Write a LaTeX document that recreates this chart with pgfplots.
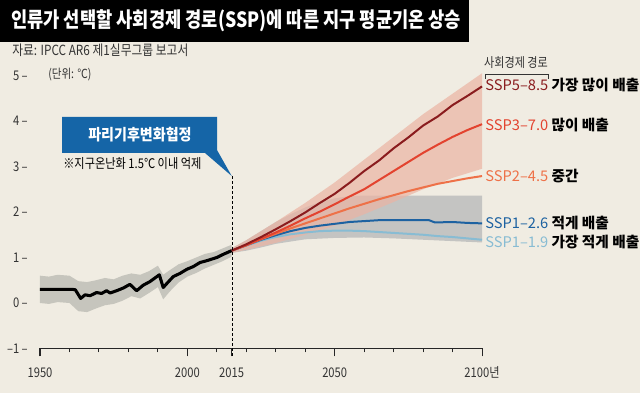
\documentclass[border=0pt]{standalone}
\usepackage{pgfplots}
\pgfplotsset{compat=1.18}
\usepackage{fontspec}
\setmainfont{Noto Sans CJK KR}
\newfontfamily\cond{Noto Sans CJK KR}[FakeStretch=0.84]
\newfontfamily\condb{Noto Sans CJK KR}[FakeStretch=0.9]
\newfontfamily\lab{Noto Sans CJK KR}
\definecolor{bg}{HTML}{F0ECE2}
\definecolor{txt}{HTML}{333333}
\definecolor{ssp585}{HTML}{8A1C1E}
\definecolor{ssp370}{HTML}{E3432F}
\definecolor{ssp245}{HTML}{EE7148}
\definecolor{ssp126}{HTML}{1D62A1}
\definecolor{ssp119}{HTML}{88BCD3}
\definecolor{redband}{HTML}{EBB4A3}
\definecolor{greyband}{HTML}{BDBDBD}
\definecolor{histband}{HTML}{C6C5BD}
\definecolor{callout}{HTML}{1565A7}
\begin{document}
\begin{tikzpicture}[x=0.75pt,y=0.75pt]
\fill[bg] (0,0) rectangle (640,393);
\path[use as bounding box] (0,0) rectangle (640,393);
\fill[black] (0,393) rectangle (469,351);
\node[anchor=west, text=white, inner sep=0pt, font=\cond\bfseries\fontsize{15.75pt}{18pt}\selectfont] at (11,372) {인류가 선택할 사회경제 경로(SSP)에 따른 지구 평균기온 상승};
\node[anchor=west, text=txt, inner sep=0pt, font=\cond\fontsize{10.5pt}{12pt}\selectfont] at (12,343) {자료: IPCC AR6 제1실무그룹 보고서};
\node[anchor=west, text=txt, inner sep=0pt, font=\cond\fontsize{9.4pt}{11pt}\selectfont] at (48,318) {(단위: ℃)};

\begin{axis}[
  at={(30pt,33.375pt)}, anchor=south west,
  x=2.2103pt, y=34.125pt,
  xmin=1950, xmax=2100, ymin=-1, ymax=5.3,
  enlargelimits=false, clip=false,
  axis x line=bottom, axis y line=left,
  axis line style={-},
  x axis line style={draw=black!85, line width=0.8pt},
  y axis line style={draw=none},
  xtick={1950,2000,2015,2050,2100},
  xticklabels={1950,2000,2015,2050,2100년},
  minor xtick={1960,1970,1980,1990,2010,2020,2030,2040,2060,2070,2080,2090},
  tick align=outside,
  major tick length=6pt, minor tick length=3pt,
  xtick style={draw=black!85, line width=0.8pt},
  ytick={-1,0,1,2,3,4,5},
  yticklabels={–1 –,0 –,1 –,2 –,3 –,4 –,5 –},
  ytick style={draw=none},
  every tick label/.append style={font=\cond\fontsize{10pt}{11pt}\selectfont, text=txt},
  yticklabel style={anchor=east, inner sep=0pt, xshift=-3pt},
  xticklabel style={anchor=center, inner sep=0pt, yshift=-12pt},
]
% historical band
\addplot[draw=none, fill=histband] coordinates {
(1950,0.60) (1953,0.58) (1956,0.62) (1960,0.60) (1963,0.48) (1966,0.46) (1969,0.50) (1972,0.55) (1975,0.52) (1978,0.60) (1981,0.65) (1984,0.62) (1987,0.70) (1990,0.82) (1991.8,0.62) (1994,0.72) (1997,0.85) (2000,0.92) (2003,1.00) (2006,1.08) (2009,1.12) (2012,1.20) (2015,1.28)
(2015,1.02) (2012,0.92) (2009,0.84) (2006,0.76) (2003,0.66) (2000,0.58) (1997,0.45) (1994,0.25) (1991.8,0.08) (1990,0.35) (1987,0.22) (1984,0.10) (1981,0.15) (1978,0.05) (1975,-0.02) (1972,-0.05) (1969,-0.12) (1966,-0.20) (1963,-0.18) (1960,0.00) (1956,0.02) (1953,-0.02) (1950,0.00)
} -- cycle;
% SSP1-2.6 range (grey)
\addplot[draw=none, fill=greyband, fill opacity=0.85] coordinates {
(2015,1.20) (2020,1.38) (2025,1.58) (2030,1.78) (2035,1.95) (2040,2.10) (2045,2.22) (2050,2.30) (2055,2.35) (2060,2.36) (2070,2.36) (2080,2.36) (2090,2.36) (2100,2.36)
(2100,1.33) (2090,1.36) (2080,1.39) (2070,1.42) (2060,1.44) (2050,1.43) (2040,1.40) (2030,1.30) (2025,1.22) (2020,1.15) (2015,1.10)
} -- cycle;
% SSP3-7.0 range (red)
\addplot[draw=none, fill=redband, fill opacity=0.7] coordinates {
(2015,1.20) (2020,1.38) (2030,1.78) (2040,2.20) (2050,2.65) (2060,3.15) (2070,3.65) (2080,4.15) (2090,4.60) (2100,5.05)
(2100,2.95) (2090,2.75) (2080,2.50) (2070,2.22) (2060,1.95) (2050,1.70) (2040,1.50) (2030,1.32) (2020,1.17) (2015,1.10)
} -- cycle;
% scenario lines
\addplot[ssp119, line width=1.5pt] coordinates {
(2015,1.15) (2020,1.26) (2025,1.37) (2030,1.45) (2035,1.51) (2040,1.55) (2045,1.58) (2050,1.59) (2055,1.59) (2060,1.58) (2065,1.56) (2070,1.54) (2075,1.52) (2080,1.50) (2085,1.47) (2090,1.45) (2095,1.42) (2100,1.39)};
\addplot[ssp126, line width=1.5pt] coordinates {
(2015,1.15) (2020,1.27) (2025,1.39) (2030,1.49) (2035,1.58) (2040,1.65) (2045,1.70) (2050,1.74) (2055,1.78) (2060,1.80) (2065,1.82) (2070,1.82) (2075,1.82) (2082,1.82) (2084,1.77) (2090,1.78) (2095,1.76) (2100,1.75)};
\addplot[ssp245, line width=1.5pt] coordinates {
(2015,1.15) (2020,1.27) (2025,1.40) (2030,1.52) (2035,1.64) (2040,1.75) (2045,1.86) (2050,1.97) (2055,2.08) (2060,2.18) (2065,2.28) (2070,2.37) (2075,2.46) (2080,2.54) (2085,2.62) (2090,2.68) (2095,2.74) (2100,2.79)};
\addplot[ssp370, line width=1.5pt] coordinates {
(2015,1.15) (2020,1.27) (2025,1.41) (2030,1.55) (2035,1.70) (2040,1.86) (2045,2.01) (2050,2.17) (2055,2.34) (2060,2.50) (2065,2.70) (2070,2.90) (2075,3.10) (2080,3.30) (2085,3.48) (2090,3.65) (2095,3.80) (2100,3.93)};
\addplot[ssp585, line width=1.5pt] coordinates {
(2015,1.15) (2020,1.29) (2025,1.45) (2030,1.62) (2035,1.80) (2040,1.99) (2045,2.20) (2050,2.40) (2055,2.64) (2060,2.90) (2065,3.13) (2070,3.40) (2075,3.64) (2080,3.90) (2085,4.10) (2090,4.35) (2095,4.55) (2100,4.76)};
% historical line
\addplot[black, line width=2.3pt, line join=round] coordinates {
(1950,0.30) (1955,0.30) (1961,0.30) (1962,0.29) (1963.8,0.10) (1965.3,0.18) (1967,0.16) (1969.2,0.23) (1970.9,0.21) (1972.6,0.27) (1973.8,0.22) (1976,0.27) (1978.3,0.33) (1980.5,0.41) (1982.8,0.27) (1985,0.39) (1987.3,0.47) (1990.5,0.62) (1991.8,0.34) (1993.2,0.44) (1995.2,0.58) (1997.5,0.65) (1999.8,0.74) (2002,0.80) (2004.3,0.89) (2006.6,0.93) (2010,1.00) (2012.2,1.07) (2015,1.15)};
% right labels
\node[anchor=west, inner sep=0pt, xshift=2.3pt, font=\lab\fontsize{11pt}{12pt}\selectfont] at (axis cs:2100,4.79) {\textcolor{ssp585}{SSP5–8.5} {\bfseries 가장 많이 배출}};
\node[anchor=west, inner sep=0pt, xshift=2.3pt, font=\lab\fontsize{11pt}{12pt}\selectfont] at (axis cs:2100,3.91) {\textcolor{ssp370}{SSP3–7.0} {\bfseries 많이 배출}};
\node[anchor=west, inner sep=0pt, xshift=2.3pt, font=\lab\fontsize{11pt}{12pt}\selectfont] at (axis cs:2100,2.78) {\textcolor{ssp245}{SSP2–4.5} {\bfseries 중간}};
\node[anchor=west, inner sep=0pt, xshift=2.3pt, font=\lab\fontsize{11pt}{12pt}\selectfont] at (axis cs:2100,1.76) {\textcolor{ssp126}{SSP1–2.6} {\bfseries 적게 배출}};
\node[anchor=west, inner sep=0pt, xshift=2.3pt, font=\lab\fontsize{11pt}{12pt}\selectfont] at (axis cs:2100,1.35) {\textcolor{ssp119}{SSP1–1.9} {\bfseries 가장 적게 배출}};
\end{axis}

% bracket
\node[text=txt, inner sep=0pt, font=\cond\fontsize{9.9pt}{11pt}\selectfont] at (516,330) {사회경제 경로};
\draw[txt, line width=0.6pt] (485,314) -- (485,319) -- (548,319) -- (548,314);
% 2015 dashed line and callout
\draw[black, line width=0.6pt, dash pattern=on 2.2pt off 1.6pt] (232,217) -- (232,35);
\fill[callout] (62,276) -- (217,276) -- (217,243) -- (231.7,217) -- (205,240) -- (62,240) -- cycle;
\node[text=white, inner sep=0pt, font=\condb\bfseries\fontsize{11.7pt}{13pt}\selectfont] at (140,258) {파리기후변화협정};
\node[anchor=west, text=black, inner sep=0pt, font=\cond\fontsize{10pt}{11pt}\selectfont] at (63,229) {※지구온난화 1.5℃ 이내 억제};
\end{tikzpicture}
\end{document}
